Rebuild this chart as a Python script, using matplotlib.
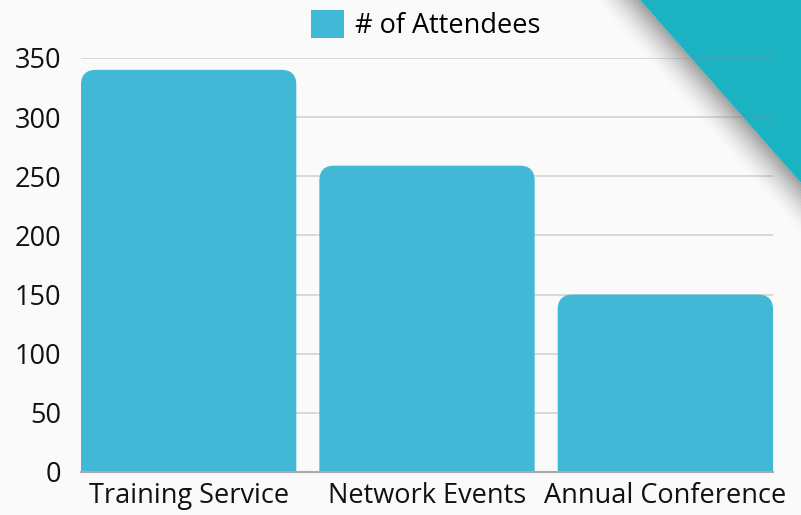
import matplotlib.pyplot as plt
import numpy as np
from matplotlib.patches import FancyBboxPatch, Polygon

categories = ['Training Service', 'Network Events', 'Annual Conference']
attendees = [340, 259, 150]
series_name = '# of Attendees'

W, H = 801, 515
bar_color = '#41b8d5'
teal = '#1bb3c2'
bg = '#fafafa'

plt.rcParams['font.family'] = ['Open Sans', 'DejaVu Sans']

fig = plt.figure(figsize=(W / 100, H / 100), dpi=100, facecolor=bg)


def px(x, y):
    return (x / W, 1 - y / H)


# corner decoration with a soft shadow
p0 = np.array([640.0, 0.0])
p1 = np.array([801.0, 183.0])
d = p1 - p0
n = np.array([-d[1], d[0]]) / np.hypot(*d)
width_sh = 34
for i in range(width_sh):
    t = 1 - i / width_sh
    g = 250 - 95 * t ** 1.6
    c = (g / 255, g / 255, g / 255)
    pts = [p0 + n * i - d, p1 + n * i + d, p1 + n * (i + 1.2) + d, p0 + n * (i + 1.2) - d]
    fig.patches.append(Polygon([px(*p) for p in pts], closed=True, transform=fig.transFigure,
                               facecolor=c, edgecolor='none', zorder=0))
fig.patches.append(Polygon([px(*p) for p in [p0 - d, p1 + d, (1200.0, -400.0)]], closed=True,
                           transform=fig.transFigure, facecolor=teal, edgecolor='none', zorder=1))

ax = fig.add_axes([81 / W, 1 - 472 / H, (773 - 81) / W, (472 - 58) / H])
ax.set_facecolor('none')
ax.set_zorder(2)

width = 215 / 238
x = np.arange(len(categories))
bars = ax.bar(x, attendees, width=width, color=bar_color, label=series_name)
ax.set_xlim(-width / 2, len(categories) - 1 + width / 2)
ax.set_ylim(0, 350)
ax.set_yticks(np.arange(0, 351, 50))
ax.set_xticks(x)
ax.set_xticklabels(categories)

# rounded tops
fig.canvas.draw()
xpp = (ax.get_xlim()[1] - ax.get_xlim()[0]) / ax.bbox.width
ypp = (ax.get_ylim()[1] - ax.get_ylim()[0]) / ax.bbox.height
r = 15
for b in bars:
    b.set_visible(False)
    bx, bw, bh = b.get_x(), b.get_width(), b.get_height()
    patch = FancyBboxPatch((bx, -30), bw, bh + 30,
                           boxstyle=f'round,pad=0,rounding_size={r * xpp}',
                           mutation_aspect=ypp / xpp, facecolor=bar_color,
                           edgecolor='none', zorder=2)
    ax.add_patch(patch)

ax.grid(axis='y', color='#888888', alpha=0.35, linewidth=1.2, zorder=0)
ax.set_axisbelow(True)
for s in ['top', 'right', 'left']:
    ax.spines[s].set_visible(False)
ax.spines['bottom'].set_color('#aaaaaa')
ax.spines['bottom'].set_linewidth(1.5)
ax.tick_params(length=0, labelsize=19.5, colors='#111111', pad=7)
ax.tick_params(axis='y', pad=14)

leg = ax.legend(handles=[bars[0]], labels=[series_name], loc='lower center',
                bbox_to_anchor=(0.5 - 0.002, 1.0), frameon=False, fontsize=19.5,
                handlelength=1.2, handleheight=1.2, handletextpad=0.4, borderaxespad=0.25)
leg.legend_handles[0].set_visible(True)

fig.savefig('out.png', dpi=100, facecolor=bg)
